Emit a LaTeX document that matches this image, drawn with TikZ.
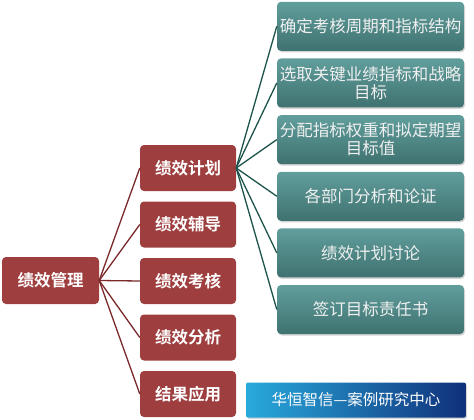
\documentclass[tikz,border=0pt]{standalone}
\usepackage{fontspec}
\newfontfamily\cjk{Noto Sans CJK SC}[BoldFont={Noto Sans CJK SC Bold}]
\usepackage{xcolor}
\usetikzlibrary{math, shadows}
\definecolor{myred}{RGB}{158, 62, 62}
\definecolor{myredline}{RGB}{122, 40, 42}
\definecolor{myteal}{RGB}{74, 134, 132}
\definecolor{mytealtop}{RGB}{96, 158, 156}
\definecolor{mytealline}{RGB}{28, 84, 76}
\definecolor{mycyan}{RGB}{40, 170, 220}
\definecolor{mynavy}{RGB}{16, 48, 122}

\begin{document}
\begin{tikzpicture}[x=1pt,y=-1pt,
  redbox/.style={fill=myred, rounded corners=4pt, minimum width=96pt, minimum height=46pt,
    inner sep=0pt, text=white, font=\cjk\bfseries\fontsize{16.5}{18}\selectfont},
  tealbox/.style={top color=mytealtop, bottom color=myteal!85!black, rounded corners=4pt,
    minimum width=187pt, minimum height=49pt, inner sep=0pt, align=center,
    text=white!94!black, font=\cjk\fontsize{16.5}{18}\selectfont,
    drop shadow={opacity=0.35, shadow xshift=1pt, shadow yshift=-1.5pt}},
  redline/.style={draw=myredline, line width=1.3pt},
  tealline/.style={draw=mytealline, line width=1.3pt}]
\tikzmath{
\xm=188;
\xr=370.5;
\dm=56.5;
\dr=56.65;
\ym=168;
\yr=26.3;
}
\useasboundingbox (0,0) rectangle (474,420);

%%%%%%%%%% root and second level
\node[redbox, minimum width=97pt, minimum height=47pt] (root) at (50.5,280.5) {绩效管理};
\node[redbox] (plan) at (\xm,\ym) {绩效计划};
\node[redbox] (coach) at (\xm,\ym+\dm) {绩效辅导};
\node[redbox] (assess) at (\xm,\ym+2*\dm) {绩效考核};
\node[redbox] (analy) at (\xm,\ym+3*\dm) {绩效分析};
\node[redbox] (apply) at (\xm,\ym+4*\dm) {结果应用};

\foreach \n in {plan,coach,assess,analy,apply}
  \draw[redline] (root.east) -- (\n.west);

%%%%%%%%%% steps of the plan
\node[tealbox] (cycle) at (\xr,\yr) {确定考核周期和指标结构};
\node[tealbox] (kpi) at (\xr,\yr+\dr) {选取关键业绩指标和战略\\目标};
\node[tealbox] (weight) at (\xr,\yr+2*\dr) {分配指标权重和拟定期望\\目标值};
\node[tealbox] (dept) at (\xr,\yr+3*\dr) {各部门分析和论证};
\node[tealbox] (discuss) at (\xr,\yr+4*\dr) {绩效计划讨论};
\node[tealbox] (sign) at (\xr,\yr+5*\dr) {签订目标责任书};

\foreach \n in {cycle,kpi,weight,dept,discuss,sign}
  \draw[tealline] (plan.east) -- (\n.west);

%%%%%%%%%% banner
\node[left color=mycyan, right color=mynavy, rounded corners=2pt, minimum width=220pt,
  minimum height=35pt, inner sep=0pt, text=white, font=\cjk\fontsize{15.5}{17}\selectfont,
  drop shadow={opacity=0.3, shadow xshift=1pt, shadow yshift=-1.5pt}]
  (banner) at (356,400) {华恒智信—案例研究中心};
\end{tikzpicture}
\end{document}
